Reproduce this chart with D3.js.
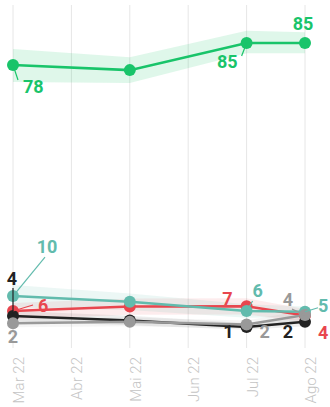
<!DOCTYPE html>
<html><head><meta charset="utf-8">
<script src="https://cdn.jsdelivr.net/npm/d3@7"></script>
<style>body{margin:0;background:#fff}svg{display:block}</style>
</head><body>
<svg id="c" width="330" height="407"></svg>
<script>
// ---- data ----
const months = ["Mar 22","Abr 22","Mai 22","Jun 22","Jul 22","Ago 22"];
const pointIdx = [0, 2, 4, 5];
const seriesNames = ["green","red","teal","black","gray"];
const greenVals = [78.2, 76.7, 84.7, 84.7];
const greenLow  = [73.2, 72.9, 81.7, 81.7];
const greenHigh = [82.9, 80.5, 88.3, 87.9];
const redVals  = [5.6, 6.9, 7.0, 4.3];
const redLow   = [3.2, 4.5, 4.6, 2.4];
const redHigh  = [8.0, 9.3, 9.4, 6.2];
const tealVals = [10.0, 8.35, 5.6, 5.4];
const tealLow  = [6.7, 5.9, 3.6, 3.9];
const tealHigh = [13.3, 10.8, 7.6, 6.9];
const blackVals = [4.1, 2.8, 0.9, 2.4];
const blackLow  = [2.6, 1.4, 0.1, 1.1];
const blackHigh = [5.6, 4.2, 2.0, 3.8];
const grayVals = [2.0, 2.4, 1.6, 4.4];
const grayLow  = [0.8, 1.1, 0.5, 3.0];
const grayHigh = [3.3, 3.7, 2.8, 5.8];

// ---- styles / layout ----
const colors = {green:"#19c46a", red:"#e8464e", teal:"#62bbad", black:"#222222", gray:"#999999"};
const bandOpacity = {green:0.14, red:0.10, teal:0.12, black:0.08, gray:0.10};
// label layout: [pointPos, dx, dy(baseline), anchor, leaderDx, leaderDy]
const labelLayout = {
  green: [[0, 10, 28, "start", 5, 15], [2, -9, 25, "end", -5, 13], [3, -2, -13, "middle", null, null]],
  red:   [[0, 25, 1, "start", 20, -6], [2, -14, -1, "end", null, null], [3, 13, 24, "start", null, null]],
  teal:  [[0, 34, -43, "middle", 32, -39], [2, 6, -14, "start", 6, -10], [3, 13, 0, "start", 13, -4]],
  black: [[0, -1, -31, "middle", 0, -28], [2, -13, 11, "end", null, null], [3, -12, 16, "end", null, null]],
  gray:  [[0, 0, 20, "middle", null, null], [2, 13, 13, "start", null, null], [3, -12, -9, "end", -13, -6]]
};

const data = {
  green: {v: greenVals, lo: greenLow, hi: greenHigh},
  red: {v: redVals, lo: redLow, hi: redHigh},
  teal: {v: tealVals, lo: tealLow, hi: tealHigh},
  black: {v: blackVals, lo: blackLow, hi: blackHigh},
  gray: {v: grayVals, lo: grayLow, hi: grayHigh}
};

const svg = d3.select("#c");
const x = d3.scaleLinear().domain([0, months.length - 1]).range([13, 305]);
const y = d3.scaleLinear().domain([0, 85]).range([330, 42]);

// grid lines
svg.append("g").selectAll("line").data(months).join("line")
  .attr("x1", (d,i) => x(i)).attr("x2", (d,i) => x(i))
  .attr("y1", 5).attr("y2", 348)
  .attr("stroke", "#e6e6e6").attr("stroke-width", 1);

// tick labels
svg.append("g").selectAll("text").data(months).join("text")
  .attr("transform", (d,i) => `translate(${x(i) + 11},357) rotate(-90)`)
  .attr("text-anchor", "end")
  .attr("font-family", "Roboto, sans-serif").attr("font-weight", 300)
  .attr("font-size", 15).attr("fill", "#c4c4c4")
  .text(d => d);

const area = d3.area().x(d => x(d.i)).y0(d => y(d.lo)).y1(d => y(d.hi));
const line = d3.line().x(d => x(d.i)).y(d => y(d.v));

function pts(name) {
  const s = data[name];
  return pointIdx.map((i, k) => ({i, v: s.v[k], lo: s.lo[k], hi: s.hi[k]}));
}

const gBand = svg.append("g"), gLine = svg.append("g"), gPt = svg.append("g"), gLab = svg.append("g");

seriesNames.forEach(name => {
  const p = pts(name);
  gBand.append("path").datum(p).attr("d", area)
    .attr("fill", colors[name]).attr("opacity", bandOpacity[name]);
});
seriesNames.forEach(name => {
  const p = pts(name);
  gLine.append("path").datum(p).attr("d", line)
    .attr("fill", "none").attr("stroke", colors[name]).attr("stroke-width", 2.5);
});
seriesNames.forEach(name => {
  const p = pts(name);
  gPt.append("g").selectAll("circle").data(p).join("circle")
    .attr("cx", d => x(d.i)).attr("cy", d => y(d.v)).attr("r", 6)
    .attr("fill", colors[name]);
});
seriesNames.forEach(name => {
  const p = pts(name);
  labelLayout[name].forEach(([k, dx, dy, anchor, ldx, ldy]) => {
    const d = p[k];
    const px = x(d.i), py = y(d.v);
    if (ldx !== null) {
      gLab.append("line").attr("x1", px).attr("y1", py)
        .attr("x2", px + ldx).attr("y2", py + ldy)
        .attr("stroke", colors[name]).attr("stroke-width", 1.2);
    }
    gLab.append("text").attr("x", px + dx).attr("y", py + dy)
      .attr("text-anchor", anchor)
      .attr("font-family", "Roboto, sans-serif").attr("font-weight", 700)
      .attr("font-size", 18).attr("fill", colors[name])
      .text(Math.round(d.v));
  });
});
</script>
</body></html>
